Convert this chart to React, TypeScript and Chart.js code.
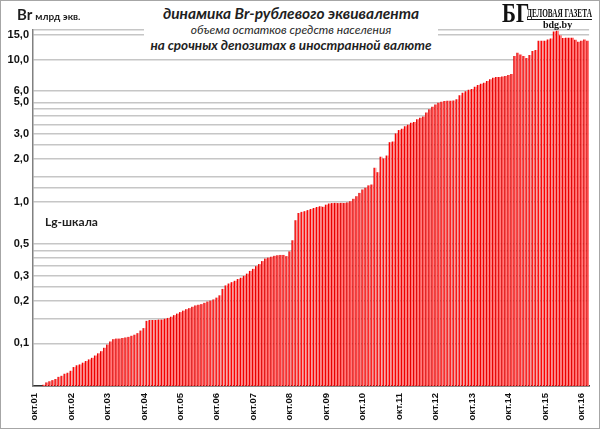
import { useEffect, useRef } from "react";
import { Chart, registerables } from "chart.js";

Chart.register(...registerables);

// month names for the category labels, first bar is October 2001
const monthNames = ["янв", "фев", "мар", "апр", "май", "июн", "июл", "авг", "сен", "окт", "ноя", "дек"];
const startYear = 2001;
const startMonth = 9;

// Br-equivalent of term foreign currency deposits, bn, Oct01 .. Dec16
const deposits = [
  0.046, 0.048, 0.049, 0.051, 0.053, 0.054, 0.055, 0.056, 0.058, 0.059, 0.061, 0.062,
  0.064, 0.068, 0.070, 0.071, 0.073, 0.075, 0.077, 0.079, 0.082, 0.085, 0.088, 0.093,
  0.098, 0.103, 0.107, 0.108, 0.108, 0.109, 0.110, 0.111, 0.113, 0.115, 0.118, 0.123,
  0.128, 0.144, 0.146, 0.146, 0.146, 0.147, 0.147, 0.149, 0.151, 0.154, 0.158, 0.162,
  0.166, 0.170, 0.174, 0.177, 0.181, 0.185, 0.187, 0.189, 0.193, 0.197, 0.200, 0.204,
  0.210, 0.218, 0.242, 0.256, 0.264, 0.270, 0.276, 0.284, 0.290, 0.299, 0.310, 0.324,
  0.335, 0.350, 0.362, 0.380, 0.396, 0.402, 0.408, 0.414, 0.418, 0.420, 0.420, 0.412,
  0.445, 0.533, 0.738, 0.830, 0.845, 0.855, 0.870, 0.885, 0.900, 0.915, 0.926, 0.918,
  0.950, 0.968, 0.975, 0.978, 0.975, 0.978, 0.976, 0.985, 1.005, 1.045, 1.09, 1.15,
  1.216, 1.25, 1.30, 1.318, 1.73, 1.61, 2.07, 2.01, 2.11, 2.62, 2.65, 3.02,
  3.19, 3.26, 3.40, 3.48, 3.60, 3.63, 3.80, 3.90, 3.97, 4.24, 4.47, 4.66,
  4.84, 4.98, 5.06, 5.12, 5.14, 5.14, 5.16, 5.26, 5.62, 5.84, 6.00, 6.15,
  6.22, 6.45, 6.62, 6.77, 6.88, 7.07, 7.27, 7.47, 7.55, 7.55, 7.62, 7.68,
  7.80, 7.92, 10.6, 11.2, 10.9, 10.6, 10.3, 10.8, 11.5, 11.7, 13.6, 13.6,
  13.6, 13.9, 14.1, 15.8, 16.0, 14.9, 14.2, 14.3, 14.3, 14.3, 13.8, 13.4,
  13.6, 13.9, 13.6,
];

const labels = deposits.map((_, i) => {
  const m = (startMonth + i) % 12;
  const y = startYear + Math.floor((startMonth + i) / 12);
  return `${monthNames[m]}.${String(y % 100).padStart(2, "0")}`;
});

// horizontal grid lines and the ones that carry a label
const gridValues = [0.05, 0.1, 0.15, 0.2, 0.25, 0.3, 0.35, 0.4, 0.45, 0.5, 1, 1.25, 1.5, 2, 2.5, 3, 3.5, 4, 4.5, 5, 6, 10, 15, 16.2];
const labeledValues = [0.1, 0.2, 0.3, 0.5, 1, 2, 3, 5, 6, 10, 15];

const barPct = 0.9;
const axisFont = "'Liberation Sans', Arial, sans-serif";

function barFill(ctx: any) {
  const chart = ctx.chart;
  const xs = chart.scales?.x;
  if (!xs || ctx.dataIndex === undefined) return "#ff0000";
  const step = xs.width / deposits.length;
  const cx = xs.getPixelForValue(ctx.dataIndex);
  const half = (step * barPct) / 2;
  if (!Number.isFinite(cx) || !Number.isFinite(half) || half <= 0) return "#ff0000";
  const g = chart.ctx.createLinearGradient(cx - half, 0, cx + half, 0);
  g.addColorStop(0, "#c00000");
  g.addColorStop(0.3, "#ff0000");
  g.addColorStop(0.7, "#ffa8a8");
  g.addColorStop(1, "#ff3030");
  return g;
}

export default function App() {
  const canvasRef = useRef<HTMLCanvasElement>(null);
  const chartRef = useRef<Chart | null>(null);

  useEffect(() => {
    document.body.style.margin = "0";
    if (!canvasRef.current) return;
    if (chartRef.current) chartRef.current.destroy();

    chartRef.current = new Chart(canvasRef.current, {
      type: "bar",
      data: {
        labels,
        datasets: [
          {
            data: deposits,
            backgroundColor: barFill,
            borderWidth: 0,
            barPercentage: barPct,
            categoryPercentage: 1,
            clip: 0,
          },
        ],
      },
      options: {
        animation: false,
        responsive: true,
        maintainAspectRatio: false,
        layout: { padding: { top: 30, right: 7, bottom: 0, left: 0 } },
        plugins: {
          legend: { display: false },
          tooltip: { enabled: false },
        },
        scales: {
          x: {
            grid: { display: false, drawTicks: false },
            border: { color: "#333", width: 1.5 },
            ticks: {
              autoSkip: false,
              minRotation: 90,
              maxRotation: 90,
              padding: 7,
              color: "#111",
              font: { family: axisFont, size: 9.5, weight: "bold" },
              callback: (_v: any, i: number) => (i % 12 === 0 ? labels[i] : null),
            },
            afterFit: (s: any) => {
              s.height = 43;
            },
          },
          y: {
            type: "logarithmic",
            min: 0.05,
            max: 16.2,
            afterBuildTicks: (s: any) => {
              s.ticks = gridValues.map((value) => ({ value }));
            },
            afterFit: (s: any) => {
              s.width = 33;
            },
            grid: { color: "#c6c6c6", lineWidth: 1.5, drawTicks: false },
            border: { color: "#808080", width: 1.5 },
            ticks: {
              autoSkip: false,
              padding: 4,
              color: "#111",
              font: { family: axisFont, size: 11, weight: "bold" },
              callback: (v: any) =>
                labeledValues.includes(Number(v)) ? Number(v).toFixed(1).replace(".", ",") : "",
            },
          },
        },
      },
    });
    // second pass so the bar gradients are built with the laid-out scale
    chartRef.current.update();

    return () => {
      chartRef.current?.destroy();
      chartRef.current = null;
    };
  }, []);

  return (
    <div style={{ position: "relative", width: 600, height: 429, fontFamily: "Lato", color: "#1f1f1f" }}>
      <canvas ref={canvasRef} />

      <div style={{ position: "absolute", left: 17, top: 4, fontWeight: 700, whiteSpace: "nowrap" }}>
        <span style={{ fontSize: 15 }}>Br</span>
        <span style={{ fontSize: 10, marginLeft: 3 }}>млрд экв.</span>
      </div>

      <div
        style={{
          position: "absolute",
          left: 144,
          top: 0,
          width: 294,
          height: 54,
          background: "#fff",
          textAlign: "center",
          fontStyle: "italic",
          whiteSpace: "nowrap",
        }}
      >
        <div style={{ fontSize: 15.5, fontWeight: 700, lineHeight: "18px", marginTop: 4 }}>
          динамика Br-рублевого эквивалента
        </div>
        <div style={{ fontSize: 12, lineHeight: "15px" }}>объема остатков средств населения</div>
        <div style={{ fontSize: 13.5, fontWeight: 700, lineHeight: "17px" }}>
          на срочных депозитах в иностранной валюте
        </div>
      </div>

      <div style={{ position: "absolute", left: 500, top: 0, width: 98, height: 29, background: "#fff" }}>
        <div
          style={{
            position: "absolute",
            left: 2,
            top: 1,
            fontFamily: "Liberation Serif",
            fontWeight: 700,
            fontSize: 27,
            lineHeight: "24px",
            transform: "scaleX(0.78)",
            transformOrigin: "left top",
            color: "#111",
          }}
        >
          БГ
        </div>
        <div
          style={{
            position: "absolute",
            left: 27,
            top: 6,
            fontFamily: "Liberation Serif",
            fontWeight: 700,
            fontSize: 13,
            lineHeight: "13px",
            whiteSpace: "nowrap",
            borderBottom: "1.5px solid #111",
            transform: "scaleX(0.56)",
            transformOrigin: "left top",
            color: "#111",
          }}
        >
          ДЕЛОВАЯ ГАЗЕТА
        </div>
        <div
          style={{
            position: "absolute",
            left: 43,
            top: 20,
            fontFamily: "Liberation Serif",
            fontWeight: 700,
            fontSize: 10,
            lineHeight: "9px",
            color: "#111",
          }}
        >
          bdg.by
        </div>
      </div>

      <div style={{ position: "absolute", left: 45, top: 214, fontSize: 12, fontWeight: 700 }}>Lg-шкала</div>

      <div
        style={{
          position: "absolute",
          inset: 0,
          border: "1px solid #a6a6a6",
          boxSizing: "border-box",
          pointerEvents: "none",
        }}
      />
    </div>
  );
}
